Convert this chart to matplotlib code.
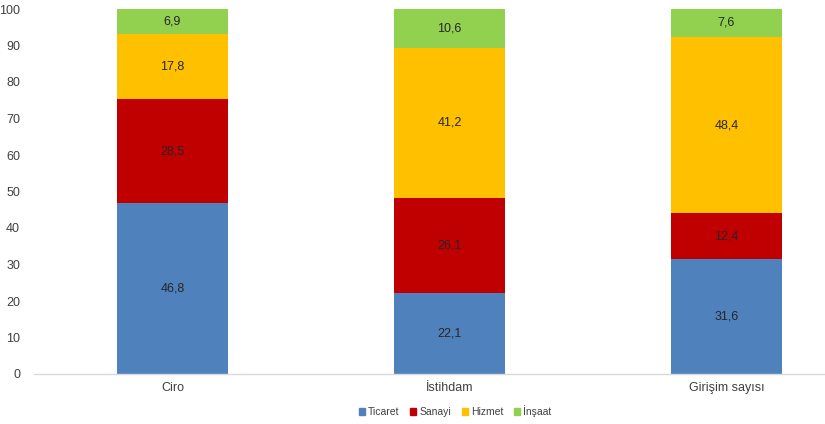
import numpy as np
import matplotlib
matplotlib.use('Agg')
import matplotlib.pyplot as plt
from matplotlib.patches import Patch

plt.rcParams['font.family'] = ['Liberation Sans', 'DejaVu Sans']

categories = ['Ciro', 'İstihdam', 'Girişim sayısı']
series = ['Ticaret', 'Sanayi', 'Hizmet', 'İnşaat']
ticaret = [46.8, 22.1, 31.6]
sanayi = [28.5, 26.1, 12.4]
hizmet = [17.8, 41.2, 48.4]
insaat = [6.9, 10.6, 7.6]
colors = ['#4F81BD', '#C00000', '#FFC000', '#92D050']

fig = plt.figure(figsize=(8.25, 4.24), dpi=100)
ax = fig.add_axes([34/825, 50/424, 831/825, 365/424])

x = np.arange(len(categories))
bottom = np.zeros(len(categories))
for name, vals, c in zip(series, [ticaret, sanayi, hizmet, insaat], colors):
    vals = np.array(vals)
    ax.bar(x, vals, 0.4, bottom=bottom, color=c, label=name, zorder=2)
    for xi, b, v in zip(x, bottom, vals):
        ax.text(xi, b + v/2, f'{v:.1f}'.replace('.', ','), ha='center', va='center',
                fontsize=9, color='#262626')
    bottom += vals

ax.set_xlim(-0.5, 2.5)
ax.set_ylim(0, 100)
ax.set_yticks(range(0, 101, 10))
ax.set_xticks(x)
ax.set_xticklabels(categories)
ax.tick_params(length=0, labelsize=9, labelcolor='#404040')
ax.tick_params(axis='y', pad=10)
ax.tick_params(axis='x', pad=6)
for s in ['top', 'right', 'left']:
    ax.spines[s].set_visible(False)
ax.spines['bottom'].set_color('#D9D9D9')
ax.spines['bottom'].set_linewidth(1)

handles = [Patch(color=c, label=n) for n, c in zip(series, colors)]
fig.legend(handles=handles, loc='center', bbox_to_anchor=(455/825, 1 - 411/424), ncol=4,
           frameon=False, fontsize=7.5, handlelength=0.6, handleheight=0.6,
           handletextpad=0.3, columnspacing=1.0, labelcolor='#404040')

fig.savefig('out.png', dpi=100)
